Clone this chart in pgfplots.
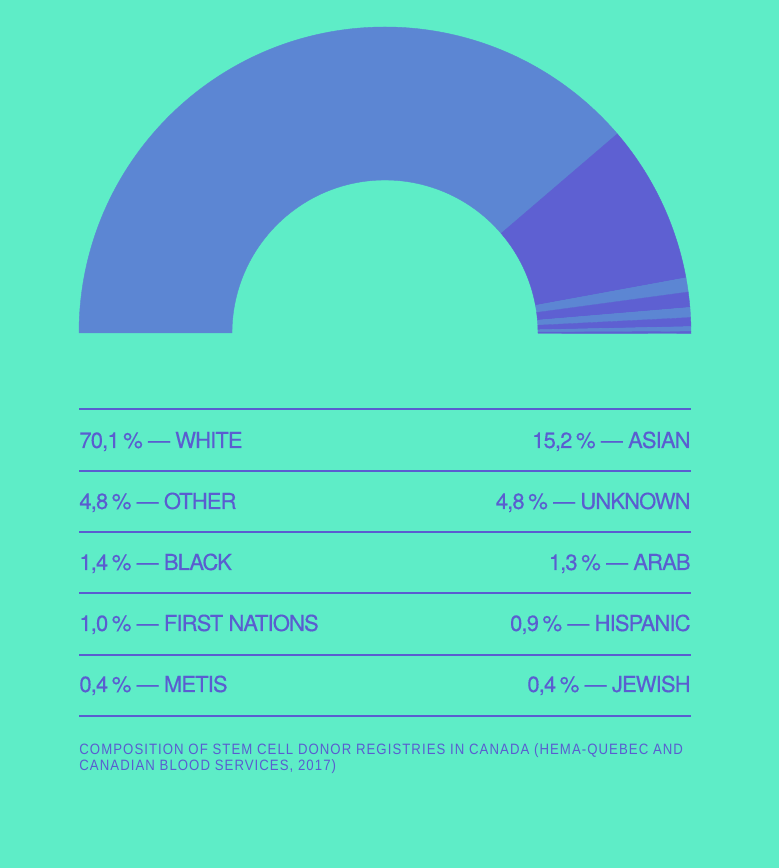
\documentclass[border=0pt]{standalone}
\usepackage{pgfplots}
\usepackage{pgfplotstable}
\usepackage{fontspec}
\pgfplotsset{compat=1.18}
\setmainfont{Liberation Sans}
\newfontfamily\legfont[LetterSpace=-4,FakeBold=0.4]{TeX Gyre Heros}
\newfontfamily\footfont[LetterSpace=7,FakeStretch=0.88]{Liberation Sans}
\definecolor{bg}{HTML}{5EEDC7}
\definecolor{c1}{HTML}{5C86D3}
\definecolor{c2}{HTML}{5E60D2}
\definecolor{txt}{HTML}{5A5DD0}
\pgfplotstableread{
name span col
White 139.4 1
Asian 30.2 2
Other 2.7 1
Unknown 2.9 2
Black 1.9 1
Arab 1.7 2
FirstNations 0.9 1
Hispanic 0.4 2
}\slices
\begin{document}
\begin{tikzpicture}
\fill[bg] (0,0) rectangle (389.5pt,434pt);
\begin{axis}[at={(0,0)},anchor=origin,width=389.5pt,height=434pt,scale only axis,
  xmin=0,xmax=779,ymin=0,ymax=868,hide axis,clip=false]
\def\cur{180}
\pgfplotsforeachungrouped \i in {0,...,7}{%
  \pgfplotstablegetelem{\i}{span}\of\slices \let\sp\pgfplotsretval
  \pgfplotstablegetelem{\i}{col}\of\slices \let\cl\pgfplotsretval
  \pgfmathsetmacro\nxt{\cur-\sp}%
  \edef\temp{\noexpand\fill[c\cl,draw=c\cl,line width=0.2pt] (axis cs:385,535) ++(\cur:153pt) arc[start angle=\cur, end angle=\nxt, radius=153pt] -- ++(\nxt:-76.5pt) arc[start angle=\nxt, end angle=\cur, radius=76.5pt] -- cycle;}%
  \temp
  \global\let\cur\nxt
}
\foreach \yy in {459,397,336,275,213,152}{
  \edef\temp{\noexpand\draw[txt,line width=0.6pt] (axis cs:79,\yy) -- (axis cs:691,\yy);}\temp
}
\begin{scope}[every node/.style={font=\legfont\fontsize{11}{12}\selectfont,text=txt,inner sep=0pt}]
\node[anchor=base west] at (axis cs:79,420) {70,1\,\% — WHITE};
\node[anchor=base east] at (axis cs:691,420) {15,2\,\% — ASIAN};
\node[anchor=base west] at (axis cs:79,359) {4,8\,\% — OTHER};
\node[anchor=base east] at (axis cs:691,359) {4,8\,\% — UNKNOWN};
\node[anchor=base west] at (axis cs:79,298) {1,4\,\% — BLACK};
\node[anchor=base east] at (axis cs:691,298) {1,3\,\% — ARAB};
\node[anchor=base west] at (axis cs:79,237) {1,0\,\% — FIRST NATIONS};
\node[anchor=base east] at (axis cs:691,237) {0,9\,\% — HISPANIC};
\node[anchor=base west] at (axis cs:79,176) {0,4\,\% — METIS};
\node[anchor=base east] at (axis cs:691,176) {0,4\,\% — JEWISH};
\end{scope}
\begin{scope}[every node/.style={font=\footfont\fontsize{7.5}{8.5}\selectfont,text=txt,inner sep=0pt}]
\node[anchor=base west] at (axis cs:79,113) {COMPOSITION OF STEM CELL DONOR REGISTRIES IN CANADA (HEMA-QUEBEC AND};
\node[anchor=base west] at (axis cs:79,97) {CANADIAN BLOOD SERVICES, 2017)};
\end{scope}
\end{axis}
\end{tikzpicture}
\end{document}
